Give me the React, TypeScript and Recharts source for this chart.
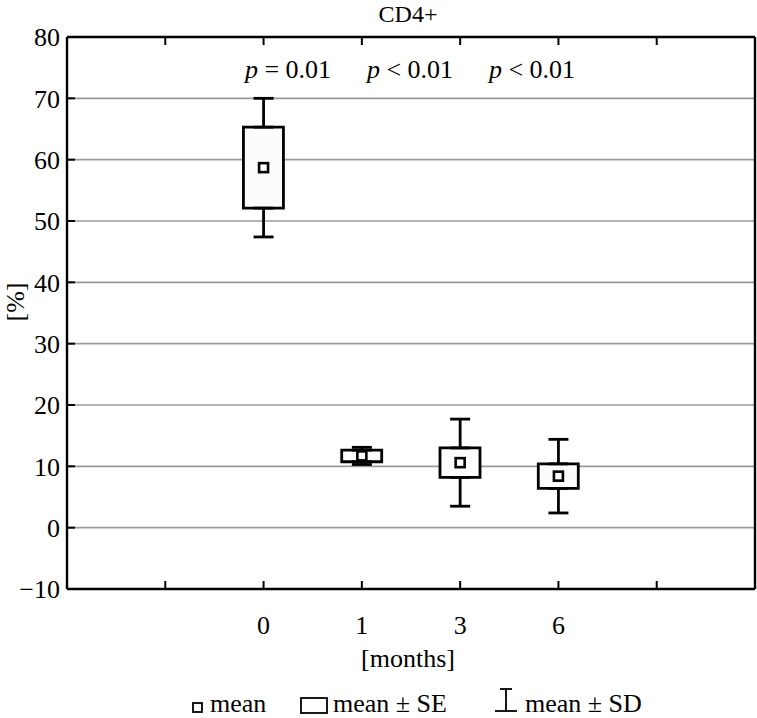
import {
  ComposedChart,
  Bar,
  Scatter,
  ErrorBar,
  XAxis,
  YAxis,
  CartesianGrid,
} from "recharts";

// months after treatment, placed on slots 2..5 of a 0..7 axis
const months = ["0", "1", "3", "6"];
const slots = [2, 3, 4, 5];
const means = [58.7, 11.7, 10.6, 8.4];
const seHalf = [6.6, 0.95, 2.4, 2.0];
const sdHalf = [11.3, 1.4, 7.1, 6.0];

const yTicks = [-10, 0, 10, 20, 30, 40, 50, 60, 70, 80];
const xTicks = [1, 2, 3, 4, 5, 6];

const pLabels = [
  { x: 288, op: "=", val: "0.01" },
  { x: 410, op: "<", val: "0.01" },
  { x: 532, op: "<", val: "0.01" },
];

const font = "Liberation Serif, Times New Roman, serif";

const table = slots.map((x, i) => ({
  x,
  month: months[i],
  mean: means[i],
  seRange: [means[i] - seHalf[i], means[i] + seHalf[i]],
  seHi: means[i] + seHalf[i],
  seLo: means[i] - seHalf[i],
  // whisker halves hang off the SE box edges
  upErr: [0, sdHalf[i] - seHalf[i]],
  downErr: [sdHalf[i] - seHalf[i], 0],
}));

const monthOf = (v: number) => {
  const i = slots.indexOf(v);
  return i >= 0 ? months[i] : "";
};

const MeanMark = (props: any) => {
  const { cx, cy } = props;
  if (cx == null || cy == null) return <g />;
  return (
    <rect x={cx - 4.5} y={cy - 4.5} width={9} height={9} fill="#fff" stroke="#000" strokeWidth={2.6} />
  );
};

const Nothing = () => <g />;

const tickStyle = { fill: "#000", fontSize: 26, fontFamily: font };
const axisLine = { stroke: "#000", strokeWidth: 2.4 };
const tickLine = { stroke: "#000", strokeWidth: 2 };
const txt = { fontFamily: font, fill: "#000" };

export default function App() {
  return (
    <div style={{ position: "relative", width: 757, height: 718 }}>
      {/* title sits right at the top edge, so drop the default body margin */}
      <style>{"body{margin:0}"}</style>
      <ComposedChart
        width={757}
        height={718}
        data={table}
        margin={{ top: 36, right: 1, bottom: 128, left: 66 }}
      >
        <CartesianGrid vertical={false} stroke="#9a9a9a" strokeWidth={1.6} />
        <XAxis
          dataKey="x"
          type="number"
          domain={[0, 7]}
          ticks={xTicks}
          height={1}
          tickSize={-8}
          tickMargin={35}
          tickFormatter={monthOf}
          tick={tickStyle}
          axisLine={axisLine}
          tickLine={tickLine}
        />
        <XAxis
          xAxisId="top"
          orientation="top"
          dataKey="x"
          type="number"
          domain={[0, 7]}
          ticks={xTicks}
          height={1}
          tickSize={-8}
          tickFormatter={() => ""}
          axisLine={axisLine}
          tickLine={tickLine}
        />
        <YAxis
          type="number"
          domain={[-10, 80]}
          ticks={yTicks}
          width={1}
          tickSize={-8}
          tickMargin={15}
          tickFormatter={(v: number) => (v < 0 ? "\u2212" + Math.abs(v) : String(v))}
          tick={tickStyle}
          axisLine={axisLine}
          tickLine={tickLine}
        />
        <YAxis
          yAxisId="right"
          orientation="right"
          type="number"
          domain={[-10, 80]}
          ticks={yTicks}
          width={1}
          tickSize={-8}
          tickFormatter={() => ""}
          axisLine={axisLine}
          tickLine={tickLine}
        />
        <Scatter dataKey="seHi" shape={Nothing} isAnimationActive={false}>
          <ErrorBar dataKey="upErr" direction="y" width={10} stroke="#000" strokeWidth={2.8} isAnimationActive={false} />
        </Scatter>
        <Scatter dataKey="seLo" shape={Nothing} isAnimationActive={false}>
          <ErrorBar dataKey="downErr" direction="y" width={10} stroke="#000" strokeWidth={2.8} isAnimationActive={false} />
        </Scatter>
        <Bar
          dataKey="seRange"
          barSize={40}
          fill="#fcfcfc"
          stroke="#000"
          strokeWidth={2.8}
          isAnimationActive={false}
        />
        <Scatter dataKey="mean" shape={MeanMark} isAnimationActive={false} />
      </ComposedChart>

      <svg
        width={757}
        height={718}
        style={{ position: "absolute", left: 0, top: 0, pointerEvents: "none" }}
      >
        <text x={408} y={22} textAnchor="middle" fontSize={24} style={txt}>
          CD4+
        </text>
        {pLabels.map((p) => (
          <text key={p.x} x={p.x} y={78} textAnchor="middle" fontSize={26} style={txt}>
            <tspan fontStyle="italic">p</tspan>
            {` ${p.op} ${p.val}`}
          </text>
        ))}
        <text transform="translate(24,302) rotate(-90)" textAnchor="middle" fontSize={26} style={txt}>
          [%]
        </text>
        <text x={408} y={667} textAnchor="middle" fontSize={26} style={txt}>
          [months]
        </text>
        <rect x={193} y={703} width={9} height={9} fill="#fff" stroke="#000" strokeWidth={1.8} />
        <text x={210} y={712} fontSize={26} style={txt}>
          mean
        </text>
        <rect x={301} y={698} width={26} height={15} fill="#fff" stroke="#000" strokeWidth={1.8} />
        <text x={333} y={712} fontSize={26} style={txt}>
          mean ± SE
        </text>
        <g stroke="#000" strokeWidth={1.8}>
          <line x1={506} y1={689} x2={506} y2={711} />
          <line x1={500} y1={689} x2={512} y2={689} />
          <line x1={495} y1={711} x2={517} y2={711} />
        </g>
        <text x={525} y={712} fontSize={26} style={txt}>
          mean ± SD
        </text>
      </svg>
    </div>
  );
}
